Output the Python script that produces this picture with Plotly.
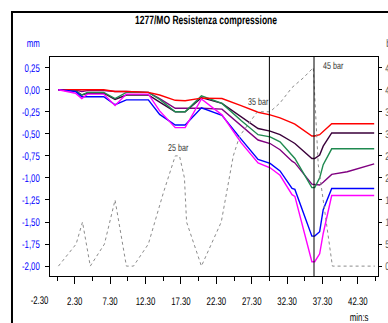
import plotly.graph_objects as go

# ---------------- data ----------------
time_min = [0.2, 2.6, 3.5, 4.3, 6.6, 8.2, 9.8, 12.9, 14.5, 16.7, 18.1, 20.4, 23.3,
            26.0, 28.4, 30.1, 31.5, 33.2, 33.6, 36.0, 36.4, 37.1, 37.6, 38.8, 41.0, 44.8]
red_mm = [0, 0, -0.005, 0, 0, -0.02, -0.02, -0.03, -0.06, -0.12, -0.125, -0.095, -0.10,
          -0.18, -0.255, -0.285, -0.32, -0.375, -0.39, -0.525, -0.525, -0.51, -0.47, -0.385, -0.385, -0.385]
dark_mm = [0, -0.01, -0.06, -0.04, -0.04, -0.11, -0.06, -0.06, -0.14, -0.25, -0.25, -0.09, -0.155,
           -0.31, -0.44, -0.47, -0.51, -0.59, -0.61, -0.78, -0.78, -0.74, -0.64, -0.49, -0.49, -0.49]
green_mm = [0, -0.01, -0.06, -0.03, -0.03, -0.10, -0.03, -0.03, -0.11, -0.25, -0.25, -0.07, -0.155,
            -0.35, -0.51, -0.535, -0.59, -0.74, -0.78, -1.11, -1.11, -1.00, -0.85, -0.67, -0.67, -0.67]
purple_mm = [0, -0.005, -0.02, -0.01, -0.01, -0.02, -0.02, -0.03, -0.10, -0.21, -0.21, -0.21, -0.22,
             -0.40, -0.57, -0.61, -0.68, -0.81, -0.83, -1.07, -1.075, -1.08, -1.05, -0.96, -0.93, -0.84]
blue_mm = [0, -0.02, -0.08, -0.08, -0.08, -0.17, -0.115, -0.115, -0.28, -0.40, -0.40, -0.205, -0.29,
           -0.56, -0.79, -0.835, -0.92, -1.12, -1.13, -1.66, -1.66, -1.61, -1.36, -1.12, -1.12, -1.12]
magenta_mm = [0, -0.04, -0.10, -0.05, -0.05, -0.18, -0.05, -0.05, -0.24, -0.43, -0.43, -0.105, -0.285,
              -0.60, -0.83, -0.885, -0.97, -1.19, -1.21, -1.95, -1.95, -1.86, -1.63, -1.20, -1.20, -1.20]

pressure_time = [0.2, 2.7, 3.6, 4.7, 6.7, 8.2, 9.8, 10.8, 12.9, 15.0, 16.7, 17.3, 18.0, 18.3,
                 20.4, 23.2, 24.9, 25.8, 28.3, 30.1, 31.5, 33.2, 34.8, 36.2, 36.9, 38.9, 44.9]
pressure_bar = [0, 5, 10, 0, 5, 15, 0, 0, 5, 16.5, 25, 25, 20, 10,
                0, 10, 25, 29.5, 35, 35, 37, 40.5, 42.7, 45, 23, 0, 0]

pressure_labels = ["25 bar", "35 bar", "45 bar"]
pressure_label_pos = [(17.2, 26.9, "center"), (28.5, 37.4, "center"), (36.7, 45.4, "left")]
marker_times = [30.0, 36.3]

x_tick_vals = [2.5, 7.5, 12.5, 17.5, 22.5, 27.5, 32.5, 37.5, 42.5]
x_tick_text = ["2.30", "7.30", "12.30", "17.30", "22.30", "27.30", "32.30", "37.30", "42.30"]
x_minor_vals = [0, 5, 10, 15, 20, 25, 30, 35, 40, 45]
y_tick_vals = [0.25, 0, -0.25, -0.5, -0.75, -1.0, -1.25, -1.5, -1.75, -2.0]
y_tick_text = ["0,25", "0,00", "-0,25", "-0,50", "-0,75", "-1,00", "-1,25", "-1,50", "-1,75", "-2,00"]
y2_tick_vals = [0, 5, 10, 15, 20, 25, 30, 35, 40, 45]

# ---------------- figure ----------------
FONT = "Liberation Sans Narrow, Arial Narrow, Liberation Sans, Arial, sans-serif"
XR = [-0.99, 45.34]
YR = [-2.112, 0.371]
Y2R = [(YR[0] + 2) * 20, (YR[1] + 2) * 20]

fig = go.Figure()
fig.add_trace(go.Scatter(x=pressure_time, y=pressure_bar, yaxis="y2", mode="lines",
                         line=dict(color="#8c8c8c", width=1, dash="dot"), showlegend=False))

series = [
    (purple_mm, "#800080"),
    (dark_mm, "#3a003a"),
    (green_mm, "#1f8a50"),
    (red_mm, "#ff0000"),
    (blue_mm, "#0000ff"),
    (magenta_mm, "#ff00ff"),
]
for vals, col in series:
    fig.add_trace(go.Scatter(x=time_min, y=vals, mode="lines",
                             line=dict(color=col, width=1.4), showlegend=False))

for t in marker_times:
    fig.add_shape(type="line", xref="x", yref="paper", x0=t, x1=t, y0=0, y1=1,
                  line=dict(color="black", width=1))

for txt, (px, py, anc) in zip(pressure_labels, pressure_label_pos):
    fig.add_annotation(x=px, y=py, xref="x", yref="y2", text=txt, showarrow=False,
                       xanchor=anc, yanchor="middle",
                       font=dict(family=FONT, size=10, color="#333333"))

# outer frame
fig.add_shape(type="rect", xref="paper", yref="paper", x0=-0.1159, x1=1.08, y0=-0.30, y1=1.2055,
              line=dict(color="black", width=2), fillcolor="rgba(0,0,0,0)", layer="above")

fig.add_annotation(x=(205.5 - 50) / 328, y=(276 - 20) / 219, xref="paper", yref="paper",
                   text="<b>1277/MO Resistenza compressione</b>", showarrow=False,
                   xanchor="center", yanchor="middle", font=dict(family=FONT, size=12, color="black"))
fig.add_annotation(x=(33 - 50) / 328, y=(276 - 43) / 219, xref="paper", yref="paper",
                   text="mm", showarrow=False, xanchor="center", yanchor="middle",
                   font=dict(family=FONT, size=11, color="#0000ff"))
fig.add_annotation(x=(382 - 50) / 328, y=(276 - 43) / 219, xref="paper", yref="paper",
                   text="bar", showarrow=False, xanchor="left", yanchor="middle",
                   font=dict(family=FONT, size=11, color="#555555"))
fig.add_annotation(x=(375 - 50) / 328, y=(276 - 316.5) / 219, xref="paper", yref="paper",
                   text="min:s", showarrow=False, xanchor="right", yanchor="middle",
                   font=dict(family=FONT, size=11, color="black"))
fig.add_annotation(x=(-2.5 - XR[0]) / (XR[1] - XR[0]), y=(276 - 300) / 219, xref="paper", yref="paper",
                   text="-2.30", showarrow=False, xanchor="center", yanchor="middle",
                   font=dict(family=FONT, size=11, color="black"))

fig.update_layout(
    width=388, height=323,
    margin=dict(l=50, r=10, t=57, b=47, autoexpand=False),
    paper_bgcolor="white", plot_bgcolor="white",
    font=dict(family=FONT, size=11, color="black"),
    xaxis=dict(range=XR, showgrid=False, zeroline=False, showline=True, linecolor="black",
               linewidth=1, mirror=True, ticks="outside", ticklen=7, tickcolor="black",
               tickmode="array", tickvals=x_tick_vals, ticktext=x_tick_text,
               ticklabelstandoff=8, automargin=False,
               minor=dict(tickmode="array", tickvals=x_minor_vals, ticks="outside",
                          ticklen=4, tickcolor="black"),
               tickfont=dict(family=FONT, size=11, color="black")),
    yaxis=dict(range=YR, showgrid=False, zeroline=False, showline=True, linecolor="black",
               linewidth=1, mirror=True, ticks="outside", ticklen=4, tickcolor="black",
               tickmode="array", tickvals=y_tick_vals, ticktext=y_tick_text,
               ticklabelstandoff=3, automargin=False,
               tickfont=dict(family=FONT, size=11, color="#0000ff")),
    yaxis2=dict(range=Y2R, overlaying="y", side="right", showgrid=False, zeroline=False,
                showline=True, linecolor="black", ticks="outside", ticklen=3, tickcolor="black",
                tickmode="array", tickvals=y2_tick_vals, ticktext=[str(v) for v in y2_tick_vals],
                automargin=False, ticklabelstandoff=1,
                tickfont=dict(family=FONT, size=11, color="#555555")),
)

# remove the page margin and condense the text horizontally (the original uses a narrow face)
post_js = """
document.body.style.margin = '0';
document.body.style.overflow = 'hidden';
var gd = document.getElementById('{plot_id}');
gd.querySelectorAll('svg text').forEach(function(el) {
  var w = el.getComputedTextLength();
  if (w > 0) {
    el.setAttribute('textLength', (w * 0.71).toFixed(2));
    el.setAttribute('lengthAdjust', 'spacingAndGlyphs');
    el.style.textRendering = 'geometricPrecision';
  }
});
"""

fig.write_html("out.html", post_script=post_js, config={"displayModeBar": False})
